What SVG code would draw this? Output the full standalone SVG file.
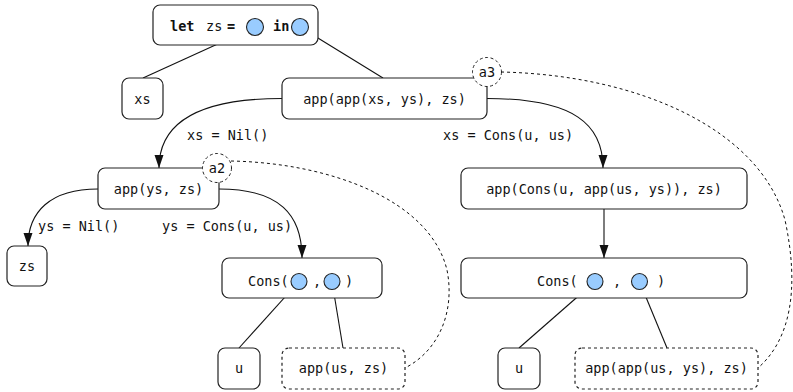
<svg xmlns="http://www.w3.org/2000/svg" width="793" height="392" viewBox="0 0 793 392">
  <defs>
    <marker id="arrow" markerUnits="userSpaceOnUse" markerWidth="13" markerHeight="10" refX="13" refY="5" orient="auto">
      <path d="M0,0.5 L13,5 L0,9.5 z" fill="#111"/>
    </marker>
    <style>
      text { font-family: "DejaVu Sans Mono", "Liberation Mono", monospace; font-size: 13.5px; fill: #111; }
      .c { text-anchor: middle; }
      .b { font-weight: bold; }
      .box { fill: #fff; stroke: #222; stroke-width: 1.2; }
      .dbox { fill: #fff; stroke: #222; stroke-width: 1.2; stroke-dasharray: 3 3; }
      .hole { fill: #99ccff; stroke: #222; stroke-width: 1.1; }
      .tag { fill: #fff; stroke: #222; stroke-width: 1; stroke-dasharray: 3 2.5; }
      .edge { fill: none; stroke: #111; stroke-width: 1.1; }
      .link { fill: none; stroke: #111; stroke-width: 1; stroke-dasharray: 3 3; }
    </style>
  </defs>

  <!-- connectors -->
  <g id="connectors">
    <!-- tree edges from holes -->
    <line class="edge" x1="255" y1="27" x2="143" y2="78"/>
    <line class="edge" x1="300" y1="27" x2="383" y2="78"/>
    <line class="edge" x1="299" y1="281.5" x2="239" y2="348"/>
    <line class="edge" x1="332" y1="281.5" x2="343" y2="348"/>
    <line class="edge" x1="595" y1="281.5" x2="519" y2="348"/>
    <line class="edge" x1="639.5" y1="281.5" x2="667" y2="348"/>
    <!-- case branches -->
    <path class="edge" d="M282,98.5 C195,98.5 159,125 159,168" marker-end="url(#arrow)"/>
    <path class="edge" d="M487,98.5 C575,98.5 603,125 603,168" marker-end="url(#arrow)"/>
    <path class="edge" d="M98,189 C50,189 28,212 28,246" marker-end="url(#arrow)"/>
    <path class="edge" d="M219,189 C280,189 302,215 302,258" marker-end="url(#arrow)"/>
    <path class="edge" d="M604,209 L604,258" marker-end="url(#arrow)"/>
    <!-- back links to pending calls -->
    <path class="link" d="M231,161 C330,163 430,200 447,270 C455,310 440,350 405,368"/>
    <path class="link" d="M501,72 C640,75 760,130 785,220 C800,290 790,340 758,368"/>
  </g>

  <!-- branch labels -->
  <g id="label-nil-xs"><text x="187" y="140">xs = Nil()</text></g>
  <g id="label-cons-xs"><text x="443" y="140">xs = Cons(u, us)</text></g>
  <g id="label-nil-ys"><text x="38" y="231">ys = Nil()</text></g>
  <g id="label-cons-ys"><text x="162" y="231">ys = Cons(u, us)</text></g>

  <g id="let">
    <rect class="box" x="153" y="5" width="165" height="40" rx="7"/>
    <text x="170" y="31" class="b">let</text>
    <text x="206" y="31">zs</text>
    <text x="227" y="31" class="b">=</text>
    <circle class="hole" cx="255" cy="27" r="8.5"/>
    <text x="273" y="31" class="b">in</text>
    <circle class="hole" cx="300" cy="27" r="8.5"/>
  </g>

  <g id="xs">
    <rect class="box" x="122" y="78" width="41" height="41" rx="7"/>
    <text class="c" x="142.5" y="103.5">xs</text>
  </g>

  <g id="app-top">
    <rect class="box" x="282" y="78" width="205" height="41" rx="7"/>
    <text class="c" x="384.5" y="103.5">app(app(xs, ys), zs)</text>
  </g>

  <g id="a3">
    <circle class="tag" cx="487" cy="72" r="14.5"/>
    <text class="c" x="487" y="76.5">a3</text>
  </g>

  <g id="app-ys">
    <rect class="box" x="98" y="168" width="121" height="41" rx="7"/>
    <text class="c" x="158.5" y="193.5">app(ys, zs)</text>
  </g>

  <g id="a2">
    <circle class="tag" cx="217" cy="168" r="14.5"/>
    <text class="c" x="217" y="172.5">a2</text>
  </g>

  <g id="zs">
    <rect class="box" x="7" y="246" width="40" height="40" rx="7"/>
    <text class="c" x="27" y="271">zs</text>
  </g>

  <g id="cons-left">
    <rect class="box" x="222" y="258" width="160" height="40" rx="7"/>
    <text x="248" y="286">Cons(</text>
    <circle class="hole" cx="299" cy="281.5" r="8"/>
    <text x="313" y="286">,</text>
    <circle class="hole" cx="332" cy="281.5" r="8"/>
    <text x="345" y="286">)</text>
  </g>

  <g id="u-left">
    <rect class="box" x="218" y="348" width="42" height="41" rx="7"/>
    <text class="c" x="239" y="373">u</text>
  </g>

  <g id="app-us">
    <rect class="dbox" x="282" y="348" width="123" height="41" rx="7"/>
    <text class="c" x="343.5" y="373">app(us, zs)</text>
  </g>

  <g id="app-cons">
    <rect class="box" x="461" y="168" width="286" height="41" rx="7"/>
    <text class="c" x="604" y="193.5">app(Cons(u, app(us, ys)), zs)</text>
  </g>

  <g id="cons-right">
    <rect class="box" x="461" y="258" width="286" height="40" rx="7"/>
    <text x="537" y="286">Cons(</text>
    <circle class="hole" cx="595" cy="281.5" r="8"/>
    <text x="613" y="286">,</text>
    <circle class="hole" cx="639.5" cy="281.5" r="8"/>
    <text x="657" y="286">)</text>
  </g>

  <g id="u-right">
    <rect class="box" x="498" y="348" width="42" height="41" rx="7"/>
    <text class="c" x="519" y="373">u</text>
  </g>

  <g id="app-app-us">
    <rect class="dbox" x="575" y="348" width="183" height="41" rx="7"/>
    <text class="c" x="666.5" y="373">app(app(us, ys), zs)</text>
  </g>
</svg>
